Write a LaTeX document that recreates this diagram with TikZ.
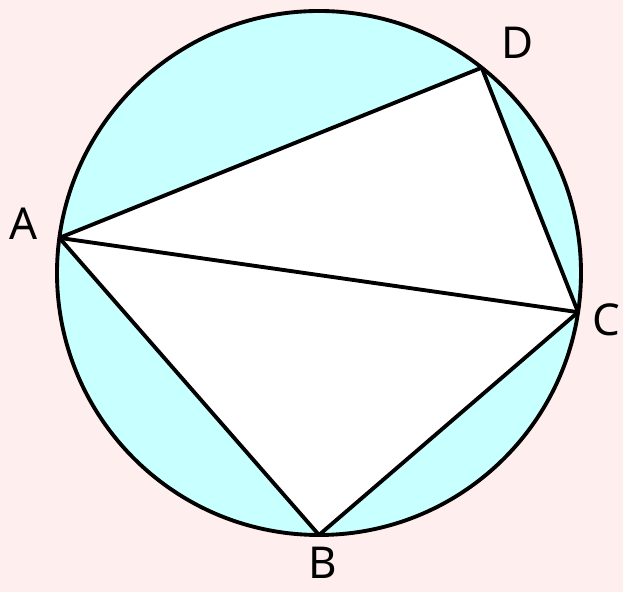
\documentclass[tikz,border=0pt]{standalone}
\usepackage{fontspec}
\setmainfont{Noto Sans}
\usetikzlibrary{calc,positioning}
\definecolor{bgpink}{RGB}{255,238,238}
\definecolor{segcyan}{RGB}{200,255,255}
\begin{document}
\begin{tikzpicture}[
  edge/.style={
    line width=2.2pt,
    black,
    line join=round
  },
  vlabel/.style={
    font=\fontsize{25}{25}\selectfont,
    inner sep=0pt
  }
]

% Background
\fill[bgpink] (0,0) rectangle (12.46,11.84);
\useasboundingbox (0,0) rectangle (12.46,11.84);

\coordinate (O) at (6.38,6.38);
\coordinate (A) at ($(O)+(172.3:5.24)$);
\coordinate (B) at ($(O)+(270:5.24)$);
\coordinate (C) at ($(O)+(-8.6:5.24)$);
\coordinate (D) at ($(O)+(51.6:5.24)$);

% Segments and quadrilateral
\fill[segcyan] (O) circle (5.24);
\fill[white] (A) -- (B) -- (C) -- (D) -- cycle;

\draw[edge] (O) circle (5.24);
\draw[edge] (A) -- (B);
\draw[edge] (B) -- (C);
\draw[edge] (C) -- (D);
\draw[edge] (D) -- (A);
\draw[edge] (A) -- (C);

% Vertex labels
\node[vlabel] (labA) at (0.48,7.36) {A};
\node[vlabel] (labB) at (6.46,0.58) {B};
\node[vlabel] (labC) at (12.12,5.44) {C};
\node[vlabel] (labD) at (10.36,10.98) {D};

\end{tikzpicture}
\end{document}
